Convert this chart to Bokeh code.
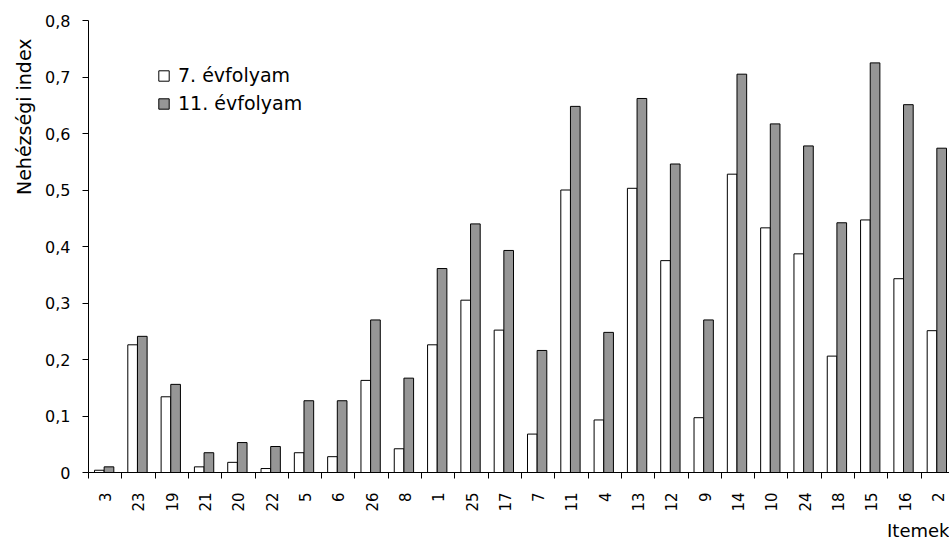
import numpy as np
from bokeh.plotting import figure
from bokeh.models import ColumnDataSource, Range1d, FixedTicker, Title, Legend, LegendItem
from bokeh.embed import file_html
from bokeh.resources import INLINE

items = ["3", "23", "19", "21", "20", "22", "5", "6", "26", "8", "1", "25", "17",
         "7", "11", "4", "13", "12", "9", "14", "10", "24", "18", "15", "16", "2"]
grade7 = [0.004, 0.226, 0.134, 0.010, 0.018, 0.007, 0.035, 0.028, 0.163, 0.042,
          0.226, 0.305, 0.252, 0.068, 0.500, 0.093, 0.503, 0.375, 0.097, 0.528,
          0.433, 0.387, 0.206, 0.447, 0.343, 0.251]
grade11 = [0.010, 0.241, 0.156, 0.035, 0.053, 0.046, 0.127, 0.127, 0.270, 0.167,
           0.361, 0.440, 0.393, 0.216, 0.648, 0.248, 0.662, 0.546, 0.270, 0.705,
           0.617, 0.578, 0.442, 0.725, 0.651, 0.574]
y_ticks = [0, 0.1, 0.2, 0.3, 0.4, 0.5, 0.6, 0.7, 0.8]
y_tick_labels = ["0", "0,1", "0,2", "0,3", "0,4", "0,5", "0,6", "0,7", "0,8"]
series_names = ["7. évfolyam", "11. évfolyam"]

FONT = "DejaVu Sans"
idx = np.arange(len(items))
bw = 0.29
src = ColumnDataSource(dict(
    x7=idx + 0.325, x11=idx + 0.615, g7=grade7, g11=grade11, item=items))

p = figure(width=949, height=543, output_backend="svg", toolbar_location=None,
           x_range=Range1d(0, 25.85), y_range=Range1d(0, 0.8),
           min_border_left=88, min_border_right=0, min_border_top=20,
           min_border_bottom=70, background_fill_color="white",
           border_fill_color="white")
p.outline_line_color = None
p.xgrid.visible = False
p.ygrid.visible = False

r7 = p.vbar(x="x7", top="g7", width=bw, source=src, fill_color="white",
            line_color="black", line_width=1)
r11 = p.vbar(x="x11", top="g11", width=bw, source=src, fill_color="#969696",
             line_color="black", line_width=1)

# x axis
centers = [float(i + 0.5) for i in idx]
bounds = [float(i) for i in range(len(items) + 1)]
p.xaxis.ticker = FixedTicker(ticks=centers, minor_ticks=bounds)
p.xaxis.major_label_overrides = {c: lab for c, lab in zip(centers, items)}
p.xaxis.major_tick_line_color = None
p.xaxis.minor_tick_out = 6
p.xaxis.minor_tick_in = 0
p.xaxis.minor_tick_line_color = "black"
p.xaxis.major_label_orientation = np.pi / 2
p.xaxis.major_label_standoff = 14
p.xaxis.major_label_text_font = FONT
p.xaxis.major_label_text_font_size = "15px"
p.xaxis.major_label_text_color = "black"
p.xaxis.axis_line_color = "black"

# y axis
p.yaxis.ticker = FixedTicker(ticks=y_ticks)
p.yaxis.major_label_overrides = {t: lab for t, lab in zip(y_ticks, y_tick_labels)}
p.yaxis.major_tick_out = 6
p.yaxis.major_tick_in = 0
p.yaxis.minor_tick_line_color = None
p.yaxis.major_tick_line_color = "black"
p.yaxis.axis_line_color = "black"
p.yaxis.major_label_standoff = 12
p.yaxis.major_label_text_font = FONT
p.yaxis.major_label_text_font_size = "16px"
p.yaxis.major_label_text_color = "black"

# axis titles
yt = Title(text="Nehézségi index", align="right", offset=18, standoff=16,
           text_font=FONT, text_font_size="19px", text_font_style="normal",
           text_color="black")
p.add_layout(yt, "left")
xt = Title(text="Itemek", align="right", standoff=6,
           text_font=FONT, text_font_size="18px", text_font_style="normal",
           text_color="black")
p.add_layout(xt, "below")

legend = Legend(items=[LegendItem(label=series_names[0], renderers=[r7]),
                       LegendItem(label=series_names[1], renderers=[r11])],
                location=(69, 358))
legend.padding = 0
legend.margin = 0
legend.border_line_color = None
legend.background_fill_alpha = 0
legend.glyph_width = 13
legend.glyph_height = 13
legend.label_height = 22
legend.spacing = 6
legend.label_standoff = 8
legend.label_text_font = FONT
legend.label_text_font_size = "19px"
legend.label_text_color = "black"
p.add_layout(legend, "center")

open("out.html", "w").write(file_html(p, INLINE))
